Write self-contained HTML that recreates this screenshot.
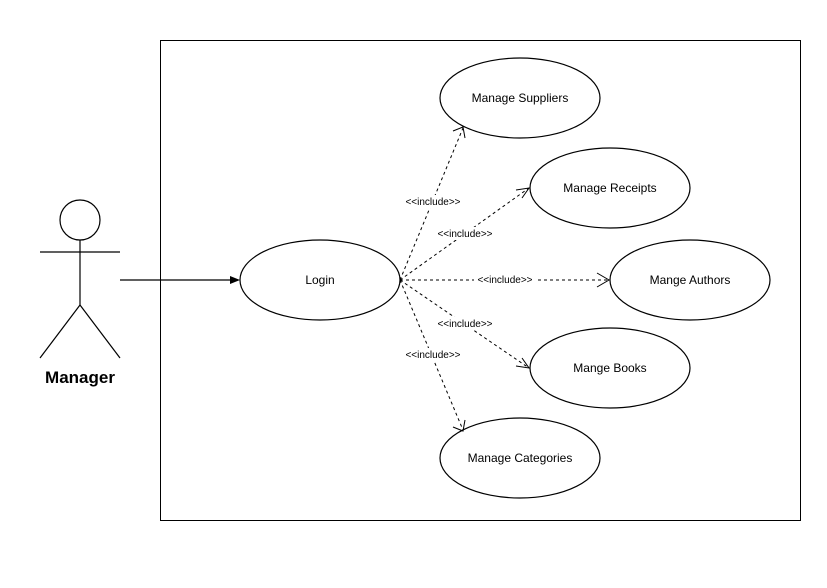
<!DOCTYPE html>
<html><head><style>body{margin:0;background:#fff}</style></head><body>
<svg width="827" height="583" xmlns="http://www.w3.org/2000/svg" font-family="Liberation Sans, Arial, sans-serif">
<rect x="160.5" y="40.5" width="640" height="480" fill="#fff" stroke="#000"/>
<g fill="none" stroke="#000" stroke-width="1.2">
<circle cx="80" cy="220" r="20"/>
<line x1="80" y1="240" x2="80" y2="305"/>
<line x1="40" y1="252" x2="120" y2="252"/>
<line x1="80" y1="305" x2="40" y2="358"/>
<line x1="80" y1="305" x2="120" y2="358"/>
<line x1="120" y1="280" x2="238" y2="280"/>
</g>
<path d="M230 276 L240 280 L230 284 Z" fill="#000"/>
<text x="80" y="383" font-size="17" font-weight="bold" text-anchor="middle">Manager</text>
<g fill="#fff" stroke="#000" stroke-width="1.2">
<ellipse cx="320" cy="280" rx="80" ry="40"/>
<ellipse cx="520" cy="98" rx="80" ry="40"/>
<ellipse cx="610" cy="188" rx="80" ry="40"/>
<ellipse cx="690" cy="280" rx="80" ry="40"/>
<ellipse cx="610" cy="368" rx="80" ry="40"/>
<ellipse cx="520" cy="458" rx="80" ry="40"/>
</g>
<g font-size="12" text-anchor="middle" fill="#000">
<text x="320" y="284">Login</text>
<text x="520" y="102">Manage Suppliers</text>
<text x="610" y="192">Manage Receipts</text>
<text x="690" y="284">Mange Authors</text>
<text x="610" y="372">Mange Books</text>
<text x="520" y="462">Manage Categories</text>
</g>
<g fill="none" stroke="#000" stroke-dasharray="3,3">
<line x1="400" y1="280" x2="463" y2="128"/>
<line x1="400" y1="280" x2="529" y2="188"/>
<line x1="400" y1="280" x2="609" y2="280"/>
<line x1="400" y1="280" x2="529" y2="368"/>
<line x1="400" y1="280" x2="463" y2="430"/>
</g>
<g fill="none" stroke="#000">
<path d="M453 131 L463 127 L465 138"/>
<path d="M516 190 L529 188 L522 198"/>
<path d="M597 273 L609 280 L597 287"/>
<path d="M516 366 L529 368 L522 358"/>
<path d="M453 427 L463 431 L465 420"/>
</g>
<g font-size="10" text-anchor="middle">
<rect x="402" y="195" width="62" height="13" fill="#fff"/><text x="433" y="205">&lt;&lt;include&gt;&gt;</text>
<rect x="434" y="227" width="62" height="13" fill="#fff"/><text x="465" y="237">&lt;&lt;include&gt;&gt;</text>
<rect x="474" y="273" width="62" height="13" fill="#fff"/><text x="505" y="283">&lt;&lt;include&gt;&gt;</text>
<rect x="434" y="317" width="62" height="13" fill="#fff"/><text x="465" y="327">&lt;&lt;include&gt;&gt;</text>
<rect x="402" y="348" width="62" height="13" fill="#fff"/><text x="433" y="358">&lt;&lt;include&gt;&gt;</text>
</g>
</svg>
</body></html>
